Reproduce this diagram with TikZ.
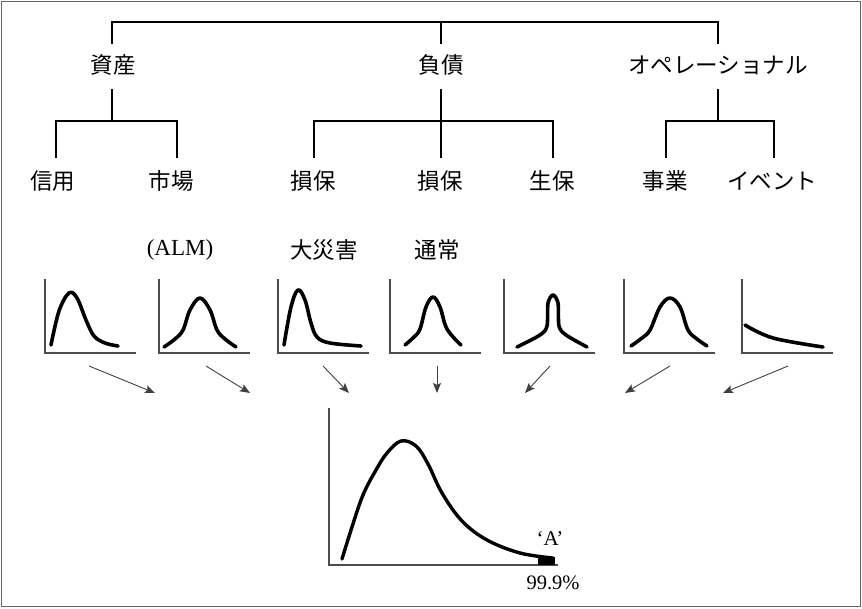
\documentclass[tikz,border=0pt]{standalone}
\usepackage{fontspec}
\setmainfont{Liberation Serif}
\newfontfamily\cjk{Noto Sans CJK JP}
\usetikzlibrary{arrows.meta}
\begin{document}
\begin{tikzpicture}[x=1pt,y=-1pt,
  tree/.style={line width=1.8pt},
  axisl/.style={line width=1.1pt, draw=black!70},
  dist/.style={line width=3.6pt, line cap=round, line join=round},
  arr/.style={line width=0.9pt, draw=black!75, -{Stealth[length=10pt,width=8pt,inset=2pt]}},
  lab/.style={inner sep=0pt, font=\cjk\fontsize{22.5}{26}\selectfont},
  lat/.style={inner sep=0pt, font=\fontsize{23}{26}\selectfont}]
\useasboundingbox (0,0) rectangle (862,608);
\draw[line width=1pt, draw=black!60] (1.5,1.5) rectangle (860.5,606.5);

% level 1
\node[lab] (asset) at (113,65) {資産};
\node[lab] (liab) at (441,65) {負債};
\node[lab] (oper) at (718,65) {オペレーショナル};
\coordinate (ta) at (112,44); \coordinate (tl) at (441,44); \coordinate (to) at (718,44);
\coordinate (top) at (441,22);
\draw[tree] (ta) |- (top) -| (to);
\draw[tree] (top) -- (tl);

% level 2
\node[lab] (cred) at (53,181) {信用};
\node[lab] (mkt) at (171,181) {市場};
\node[lab] (nl1) at (313,181) {損保};
\node[lab] (nl2) at (440,181) {損保};
\node[lab] (life) at (552,181) {生保};
\node[lab] (bus) at (665,181) {事業};
\node[lab] (evt) at (772,181) {イベント};

\coordinate (ba) at (112,89); \coordinate (ma) at (112,121);
\coordinate (c1) at (56,158); \coordinate (c2) at (177,158);
\draw[tree] (ba) -- (ma);
\draw[tree] (c1) |- (ma) -| (c2);

\coordinate (bl) at (441,89); \coordinate (ml) at (441,121);
\coordinate (l1) at (314,158); \coordinate (l2) at (441,158); \coordinate (l3) at (553,158);
\draw[tree] (bl) -- (l2);
\draw[tree] (l1) |- (ml) -| (l3);

\coordinate (bo) at (718,89); \coordinate (mo) at (718,121);
\coordinate (o1) at (666,158); \coordinate (o2) at (774,158);
\draw[tree] (bo) -- (mo);
\draw[tree] (o1) |- (mo) -| (o2);

% labels above curves
\node[lat] (alm) at (180,250) {(ALM)};
\node[lab] (cat) at (324,250) {大災害};
\node[lab] (norm) at (437,250) {通常};

% small charts
\foreach \x in {45,159,278,390,504,624,742}{
  \draw[axisl] (\x,279) -- (\x,353) -- (\x+91,353);
}
\draw[dist,shift={(45,353)}] plot[smooth,tension=0.6] coordinates {(6,-8) (14,-42) (24,-60) (32,-55) (41,-33) (49,-17) (60,-10) (73,-7)};
\draw[dist,shift={(159,353)}] plot[smooth,tension=0.6] coordinates {(5,-6) (16,-14) (24,-23) (31,-43) (41,-55) (51,-43) (58,-23) (66,-14) (77,-6)};
\draw[dist,shift={(278,353)}] plot[smooth,tension=0.6] coordinates {(6,-8) (13,-46) (20,-63) (27,-53) (33,-30) (39,-16) (52,-10) (83,-7)};
\draw[dist,shift={(390,353)}] plot[smooth,tension=0.6] coordinates {(15,-8) (24,-16) (30,-24) (36,-46) (43,-56) (50,-46) (57,-24) (71,-8)};
\draw[dist,shift={(504,353)}] plot[smooth,tension=0.5] coordinates {(13,-6) (36,-18) (43,-27) (44,-50) (49,-58) (54,-50) (55,-27) (62,-18) (83,-6)};
\draw[dist,shift={(624,353)}] plot[smooth,tension=0.6] coordinates {(7,-7) (18,-15) (26,-23) (36,-46) (46,-55) (56,-46) (64,-23) (73,-14) (83,-7)};
\draw[dist,shift={(742,353)}] plot[smooth,tension=0.6] coordinates {(3,-28) (31,-15) (81,-6)};

% arrows
\coordinate (a1s) at (89,366); \coordinate (a1e) at (155,393);
\coordinate (a2s) at (206,366); \coordinate (a2e) at (250,393);
\coordinate (a3s) at (323,366); \coordinate (a3e) at (349,393);
\coordinate (a4s) at (437,366); \coordinate (a4e) at (437,393);
\coordinate (a5s) at (550,366); \coordinate (a5e) at (525,393);
\coordinate (a6s) at (670,366); \coordinate (a6e) at (625,393);
\coordinate (a7s) at (788,366); \coordinate (a7e) at (723,393);
\foreach \i in {1,...,7}{ \draw[arr] (a\i s) -- (a\i e); }

% big chart
\draw[axisl] (329,408) -- (329,565) -- (558,565);
\draw[dist,line width=3.4pt] plot[smooth,tension=0.6] coordinates {(342,559) (352,527) (363,495) (376,470) (387,453) (401,441) (416,446) (428,464) (442,493) (462,521) (487,540) (520,553) (553,558)};
\fill (538,556.5) rectangle (555,565);
\node[lat,font=\fontsize{21}{24}\selectfont] (A) at (550,538) {‘A’};
\node[lat,font=\fontsize{20.5}{24}\selectfont] (pct) at (553,583) {99.9\%};
\end{tikzpicture}
\end{document}
